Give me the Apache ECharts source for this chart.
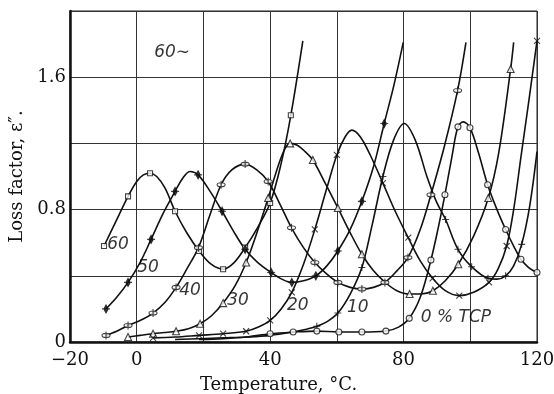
<!DOCTYPE html>
<html>
<head>
<meta charset="utf-8">
<script src="https://cdn.jsdelivr.net/npm/echarts@6/dist/echarts.min.js"></script>
<style>
html,body{margin:0;padding:0;background:#fff;}
#chart{width:554px;height:394px;}
</style>
</head>
<body>
<div id="chart"></div>
<script>
// loss factor vs temperature, 60 cycles, % TCP
// each point: [temperature, loss factor, 1 = plotted marker]
var s60 = [[-9.8,0.58,1],[-6.2,0.73,0],[-2.6,0.88,1],[0,0.97,0],[2,1.01,0],[4,1.02,1],[6,1.0,0],[8.5,0.93,0],
  [11.5,0.79,1],[15,0.66,0],[18.7,0.55,1],[22.3,0.47,0],[25.9,0.44,1],[29.2,0.48,0],[32.5,0.57,1],
  [36.2,0.69,0],[40,0.84,1],[43.2,1.07,0],[46.2,1.37,1],[49.8,1.82,0]];
var s50 = [[-9.2,0.2,1],[-6,0.27,0],[-2.6,0.36,1],[1,0.48,0],[4.3,0.62,1],[8,0.78,0],[11.5,0.91,1],
  [13.8,0.99,0],[16,1.03,0],[18.4,1.01,1],[22,0.91,0],[25.6,0.79,1],[29,0.67,0],[32.5,0.56,1],
  [36.3,0.48,0],[40.3,0.42,1],[43.5,0.38,0],[46.5,0.36,1],[50,0.37,0],[53.7,0.40,1],[57,0.46,0],
  [60.3,0.55,1],[64,0.68,0],[67.5,0.85,1],[71,1.06,0],[74.2,1.32,1],[77.2,1.56,0],[79.9,1.81,0]];
var s40 = [[-9.2,0.04,1],[-6,0.065,0],[-2.6,0.10,1],[1,0.13,0],[4.9,0.175,1],[8.5,0.24,0],[11.8,0.33,1],
  [15,0.44,0],[18.5,0.57,1],[22,0.77,0],[25.3,0.95,1],[28.5,1.04,0],[32.5,1.075,1],[36,1.04,0],
  [39.4,0.97,1],[43,0.83,0],[46.4,0.69,1],[50,0.57,0],[53.4,0.48,1],[57,0.41,0],[60.3,0.36,1],
  [64,0.33,0],[67.5,0.32,1],[71,0.33,0],[74.4,0.36,1],[78,0.43,0],[81.3,0.51,1],[85,0.68,0],
  [88.2,0.89,1],[92.2,1.18,0],[96.2,1.52,1],[98.7,1.81,0]];
var s30 = [[-2.6,0.03,1],[1,0.04,0],[4.9,0.05,1],[8.3,0.057,0],[11.8,0.065,1],[15.5,0.08,0],[19,0.11,1],
  [22.5,0.16,0],[25.9,0.235,1],[29.5,0.34,0],[32.8,0.48,1],[36.2,0.67,0],[39.4,0.87,1],[42.5,1.07,0],
  [44.5,1.17,0],[46,1.2,1],[48,1.19,0],[50.5,1.15,0],[52.8,1.10,1],[56.5,0.96,0],[60.3,0.81,1],
  [64,0.66,0],[67.5,0.53,1],[71,0.43,0],[74.5,0.36,0],[78,0.31,0],[81.8,0.29,1],[85.3,0.29,0],
  [88.8,0.31,1],[92.5,0.37,0],[96.4,0.47,1],[101,0.64,0],[105.4,0.87,1],[108.5,1.14,0],
  [112.1,1.65,1],[113,1.81,0]];
var s20 = [[4.9,0.025,1],[11.5,0.03,0],[18.7,0.04,1],[25.9,0.05,1],[32.8,0.065,1],[36.5,0.09,0],
  [40,0.13,1],[43.3,0.2,0],[46.5,0.30,1],[50,0.47,0],[53.4,0.68,1],[57,0.93,0],[60,1.13,1],
  [62.5,1.24,0],[64.5,1.28,0],[67,1.24,0],[70,1.13,0],[73.8,0.96,1],[77.5,0.79,0],[81.4,0.63,1],
  [85,0.49,0],[88.7,0.385,1],[92.5,0.31,0],[96.7,0.28,1],[101,0.3,0],[105.6,0.36,1],[108.3,0.44,0],
  [110.9,0.58,1],[113,0.80,0],[115.2,1.12,0],[117.5,1.45,0],[120,1.82,1]];
var s10 = [[11.5,0.015,0],[18.7,0.02,0],[25.9,0.025,0],[32.8,0.03,0],[40,0.04,0],[46.8,0.06,0],
  [50.5,0.075,0],[54,0.095,1],[57.2,0.125,0],[60.3,0.175,1],[64,0.29,0],[67.5,0.45,1],[70.5,0.70,0],
  [73.8,1.0,1],[77,1.22,0],[80.2,1.32,0],[83.5,1.22,0],[87,1.0,0],[89.8,0.85,0],[92.6,0.74,1],
  [96.3,0.56,1],[100.4,0.455,1],[105.3,0.385,1],[108,0.38,0],[110.6,0.40,1],[113,0.46,0],
  [115.4,0.59,1],[117.8,0.82,0],[120,1.15,0]];
var s0 = [[18.7,0.015,0],[25.9,0.02,0],[32.8,0.03,0],[40,0.05,1],[46.9,0.06,1],[54,0.066,1],
  [60.6,0.06,1],[67.5,0.06,1],[74.7,0.066,1],[78.5,0.09,0],[81.7,0.143,1],[85,0.27,0],[88.2,0.495,1],
  [90.5,0.70,0],[92.4,0.89,1],[94.5,1.12,0],[96.3,1.30,1],[97.9,1.33,0],[99.9,1.295,1],[102.5,1.14,0],
  [105.2,0.95,1],[108,0.80,0],[110.6,0.68,1],[113,0.58,0],[115.2,0.50,1],[117.5,0.45,0],[120,0.42,1]];

// curve labels: [x, y, text]
var curveLabels = [[-5.6,0.59,'60'],[3.4,0.45,'50'],[16,0.31,'40'],[30.4,0.25,'30'],
  [48.3,0.22,'20'],[66.3,0.205,'10'],[95.7,0.15,'0 % TCP'],[10.6,1.75,'60∼']];

var xLabels = {'-20':'−20','0':'0','40':'40','80':'80','120':'120'};
var yLabels = ['0','0.8','1.6'];

var symX = 'path://M-1,-1L1,1M1,-1L-1,1';
var symPlus = 'path://M-1,0L1,0M0,-1L0,1';
var symPhi = 'path://M0,-1.1L0,1.1M0.55,0A0.55,0.55,0,1,1,-0.55,0A0.55,0.55,0,1,1,0.55,0Z';
var symBar = 'path://M-1,0L1,0M0,-0.6L0.55,0L0,0.6L-0.55,0Z';

var curves = [
  {pts:s60, sym:'rect', size:5, fill:'#fff'},
  {pts:s50, sym:symBar, size:8, fill:'#111'},
  {pts:s40, sym:symPhi, size:8, fill:'#fff'},
  {pts:s30, sym:'triangle', size:7, fill:'#fff'},
  {pts:s20, sym:symX, size:6, fill:'none'},
  {pts:s10, sym:symPlus, size:7, fill:'none'},
  {pts:s0, sym:'circle', size:6, fill:'#fff'}
];

var series = [];
curves.forEach(function(c){
  series.push({
    type:'line', smooth:0.35, showSymbol:false, silent:true,
    lineStyle:{color:'#111', width:1.6},
    data:c.pts.map(function(p){return [p[0],p[1]];})
  });
});
curves.forEach(function(c){
  series.push({
    type:'scatter', symbol:c.sym, symbolSize:c.size, silent:true, z:3,
    itemStyle:{color:c.fill, borderColor:'#111', borderWidth:1.1},
    data:c.pts.filter(function(p){return p[2];}).map(function(p){return [p[0],p[1]];})
  });
});
series.push({
  type:'scatter', symbolSize:1, silent:true, z:4,
  itemStyle:{color:'transparent'},
  label:{show:true, position:'inside', formatter:function(p){return p.data[2];},
    color:'#000', fontFamily:'DejaVu Sans', fontStyle:'italic', fontSize:17},
  data:curveLabels
});

var myChart = echarts.init(document.getElementById('chart'));
var option = {
  animation:false,
  backgroundColor:'#fff',
  grid:{left:70, right:17, top:11, bottom:52, show:true, borderColor:'#222', borderWidth:1,
    containLabel:false, outerBoundsMode:'none'},
  xAxis:{
    type:'value', min:-20, max:120, interval:20,
    name:'Temperature, °C.', nameLocation:'middle', nameGap:34,
    nameTextStyle:{fontFamily:'DejaVu Serif', fontSize:18, color:'#111', padding:[0,50,0,0]},
    axisLine:{show:true, onZero:false, lineStyle:{color:'#111', width:2.5}},
    axisTick:{show:false},
    axisLabel:{margin:9, fontFamily:'DejaVu Serif', fontSize:18, color:'#111',
      formatter:function(v){return xLabels[String(v)] || '';}},
    splitLine:{show:true, lineStyle:{color:'#333', width:1}}
  },
  yAxis:{
    type:'value', min:0, max:2.0, interval:0.4,
    name:'Loss factor, ε″.', nameLocation:'middle', nameGap:37,
    nameTextStyle:{fontFamily:'DejaVu Serif', fontSize:18, color:'#111'},
    axisLine:{show:true, onZero:false, lineStyle:{color:'#111', width:2.5}},
    axisTick:{show:false},
    axisLabel:{margin:4, fontFamily:'DejaVu Serif', fontSize:18, color:'#111',
      formatter:function(v){var s = String(+v.toFixed(1)); return yLabels.indexOf(s) >= 0 ? s : '';}},
    splitLine:{show:true, lineStyle:{color:'#333', width:1}}
  },
  series:series
};
myChart.setOption(option);
</script>
</body>
</html>
